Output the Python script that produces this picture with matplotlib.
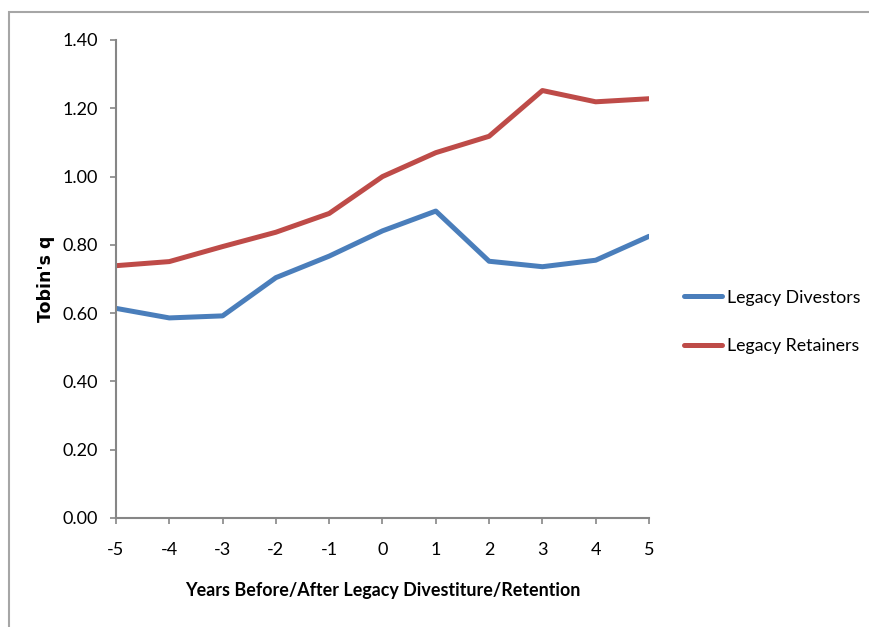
import matplotlib
matplotlib.use("Agg")
import matplotlib.pyplot as plt
from matplotlib.patches import Rectangle

plt.rcParams['font.family'] = ['Lato', 'DejaVu Sans']

years = [-5, -4, -3, -2, -1, 0, 1, 2, 3, 4, 5]
divestors = [0.614, 0.586, 0.592, 0.704, 0.767, 0.841, 0.899, 0.752, 0.736, 0.755, 0.825]
retainers = [0.739, 0.751, 0.795, 0.837, 0.892, 1.000, 1.070, 1.118, 1.252, 1.219, 1.228]
y_ticks = [0.0, 0.2, 0.4, 0.6, 0.8, 1.0, 1.2, 1.4]

W, H = 870, 627
fig = plt.figure(figsize=(W / 100, H / 100), dpi=100)

# outer chart-area frame
fig.patches.append(Rectangle((9 / W, -0.1), 1.2, 1 - 12 / H + 0.1,
                             transform=fig.transFigure, fill=False,
                             edgecolor='#a6a6a6', linewidth=1.5))

ax = fig.add_axes([116 / W, 109 / H, (649 - 116) / W, (518 - 40) / H])

ax.plot(years, divestors, color='#4a7ebb', linewidth=3.6, label='Legacy Divestors',
        solid_capstyle='round', solid_joinstyle='round')
ax.plot(years, retainers, color='#be4b48', linewidth=3.6, label='Legacy Retainers',
        solid_capstyle='round', solid_joinstyle='round')

ax.set_xlim(-5, 5)
ax.set_ylim(0, 1.4)
ax.set_xticks(years)
ax.set_xticklabels([str(v) for v in years])
ax.set_yticks(y_ticks)
ax.set_yticklabels([f"{v:.2f}" for v in y_ticks])

for side in ('top', 'right'):
    ax.spines[side].set_visible(False)
for side in ('left', 'bottom'):
    ax.spines[side].set_color('#868686')
    ax.spines[side].set_linewidth(1.5)

ax.tick_params(axis='both', direction='out', length=4, width=1.2, color='#868686',
               labelsize=13, labelcolor='black')
ax.tick_params(axis='y', pad=9)
ax.tick_params(axis='x', pad=13.5)

ax.set_xlabel('Years Before/After Legacy Divestiture/Retention', fontsize=12.9,
              fontweight='bold', labelpad=17)
ax.set_ylabel("Tobin's q", fontsize=12.5, fontweight='bold', va='center',
              family=['DejaVu Sans'])
ax.yaxis.set_label_coords(-0.131, 0.5)

fig.legend(loc='center left', bbox_to_anchor=(684 / W, 1 - 322 / H), frameon=False,
           fontsize=12.8, handlelength=2.15, handletextpad=0.25, labelspacing=1.85,
           borderpad=0, borderaxespad=0)

fig.savefig('out.png', dpi=100)
